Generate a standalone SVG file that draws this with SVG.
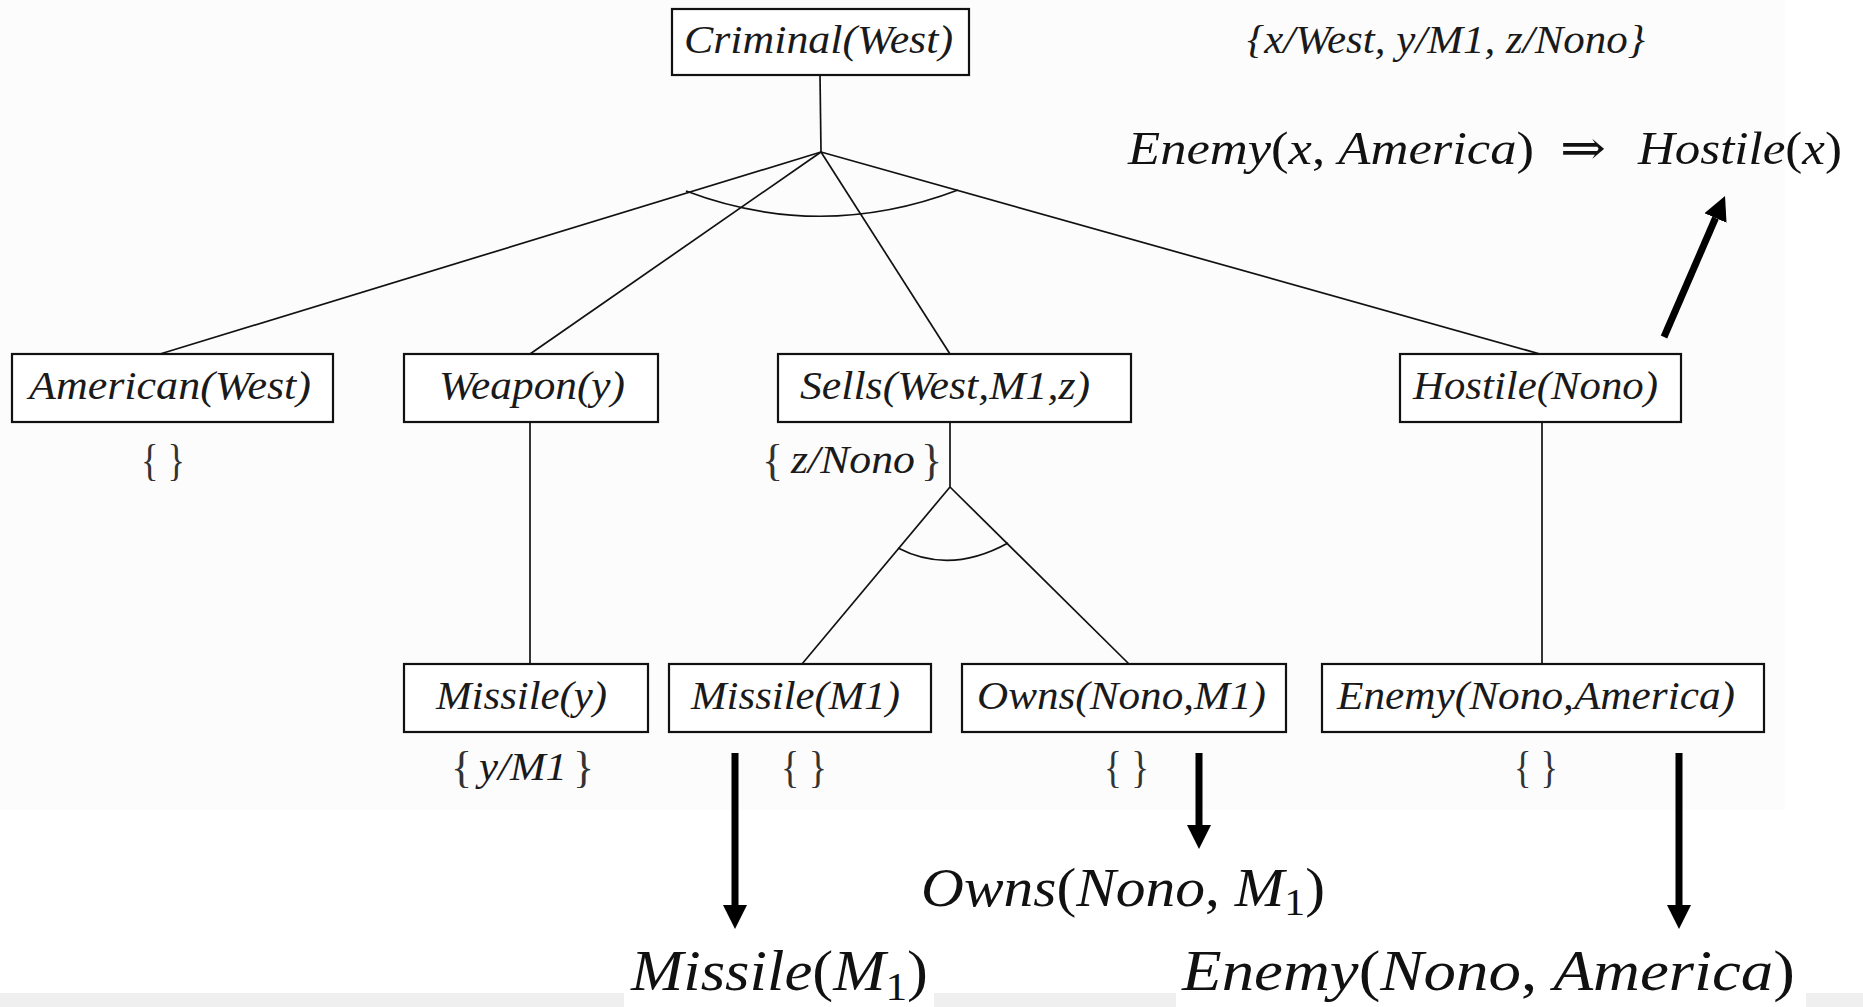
<svg xmlns="http://www.w3.org/2000/svg" width="1863" height="1007" viewBox="0 0 1863 1007">
  <style>
    .box { fill: #ffffff; stroke: #111111; stroke-width: 2.2; }
    .lbl { font-family: "Liberation Serif", "Times New Roman", serif; font-style: italic; font-size: 40px; fill: #1a1a1a; }
    .brace { font-family: "Liberation Serif", "Times New Roman", serif; font-size: 44px; fill: #333333; }
    .math { font-family: "Liberation Serif", "DejaVu Serif", serif; fill: #111111; }
    .math .it { font-style: italic; }
    .link { fill: none; stroke: #111111; stroke-width: 1.7; }
    .arrow { fill: none; stroke: #000000; stroke-width: 7; }
  </style>
  <defs>
    <marker id="head" markerUnits="userSpaceOnUse" viewBox="0 0 24 24" markerWidth="24" markerHeight="24" refX="0" refY="12" orient="auto">
      <path d="M0,0 L24,12 L0,24 z" fill="#000000"/>
    </marker>
  </defs>

  <!-- page backgrounds -->
  <rect x="0" y="0" width="1863" height="1007" fill="#ffffff"/>
  <rect x="0" y="0" width="1785" height="810" fill="#fcfcfc"/>
  <rect x="0" y="993" width="1863" height="14" fill="#efefef"/>
  <rect x="624" y="930" width="310" height="77" fill="#ffffff"/>
  <rect x="1176" y="930" width="630" height="77" fill="#ffffff"/>

  <!-- proof tree connectors -->
  <g id="connectors">
    <path class="link" d="M820,75 L821,152"/>
    <path class="link" d="M821,152 L160,354"/>
    <path class="link" d="M821,152 L530,354"/>
    <path class="link" d="M821,152 L950,354"/>
    <path class="link" d="M821,152 L1540,354"/>
    <path class="link" d="M686,191 Q821,242 958,190"/>
    <path class="link" d="M530,422 L530,664"/>
    <path class="link" d="M950,422 L950,487"/>
    <path class="link" d="M950,487 L802,664"/>
    <path class="link" d="M950,487 L1129,664"/>
    <path class="link" d="M898,548 Q950,575 1008,543"/>
    <path class="link" d="M1542,422 L1542,664"/>
  </g>

  <!-- goal nodes -->
  <g id="criminal-west">
    <rect class="box" x="672" y="9" width="297" height="66"/>
    <text class="lbl" x="684" y="53" textLength="269" lengthAdjust="spacingAndGlyphs">Criminal(West)</text>
  </g>
  <g id="american-west">
    <rect class="box" x="12" y="354" width="321" height="68"/>
    <text class="lbl" x="29" y="399" textLength="282" lengthAdjust="spacingAndGlyphs">American(West)</text>
    <text class="brace" x="141" y="475" textLength="44" lengthAdjust="spacingAndGlyphs">{ }</text>
  </g>
  <g id="weapon-y">
    <rect class="box" x="404" y="354" width="254" height="68"/>
    <text class="lbl" x="439" y="399" textLength="186" lengthAdjust="spacingAndGlyphs">Weapon(y)</text>
  </g>
  <g id="sells-west-m1-z">
    <rect class="box" x="778" y="354" width="353" height="68"/>
    <text class="lbl" x="800" y="399" textLength="290" lengthAdjust="spacingAndGlyphs">Sells(West,M1,z)</text>
    <text class="brace" x="762" y="475">{</text>
    <text class="lbl" x="791" y="473" textLength="124" lengthAdjust="spacingAndGlyphs">z/Nono</text>
    <text class="brace" x="921" y="475">}</text>
  </g>
  <g id="hostile-nono">
    <rect class="box" x="1400" y="354" width="281" height="68"/>
    <text class="lbl" x="1413" y="399" textLength="245" lengthAdjust="spacingAndGlyphs">Hostile(Nono)</text>
  </g>
  <g id="missile-y">
    <rect class="box" x="404" y="664" width="244" height="68"/>
    <text class="lbl" x="436" y="709" textLength="171" lengthAdjust="spacingAndGlyphs">Missile(y)</text>
    <text class="brace" x="451" y="782">{</text>
    <text class="lbl" x="479" y="780" textLength="88" lengthAdjust="spacingAndGlyphs">y/M1</text>
    <text class="brace" x="573" y="782">}</text>
  </g>
  <g id="missile-m1">
    <rect class="box" x="669" y="664" width="262" height="68"/>
    <text class="lbl" x="691" y="709" textLength="209" lengthAdjust="spacingAndGlyphs">Missile(M1)</text>
    <text class="brace" x="781" y="782" textLength="46" lengthAdjust="spacingAndGlyphs">{ }</text>
  </g>
  <g id="owns-nono-m1">
    <rect class="box" x="962" y="664" width="324" height="68"/>
    <text class="lbl" x="977" y="709" textLength="289" lengthAdjust="spacingAndGlyphs">Owns(Nono,M1)</text>
    <text class="brace" x="1104" y="782" textLength="45" lengthAdjust="spacingAndGlyphs">{ }</text>
  </g>
  <g id="enemy-nono-america">
    <rect class="box" x="1322" y="664" width="442" height="68"/>
    <text class="lbl" x="1337" y="709" textLength="398" lengthAdjust="spacingAndGlyphs">Enemy(Nono,America)</text>
    <text class="brace" x="1514" y="782" textLength="44" lengthAdjust="spacingAndGlyphs">{ }</text>
  </g>

  <!-- answer substitution -->
  <g id="answer">
    <text class="lbl" x="1247" y="53" font-size="38" textLength="398" lengthAdjust="spacingAndGlyphs">{x/West, y/M1, z/Nono}</text>
  </g>

  <!-- rule and facts from the knowledge base -->
  <g id="rule-hostile">
    <text class="math" x="1128" y="164" font-size="47" textLength="406" lengthAdjust="spacingAndGlyphs"><tspan class="it">Enemy</tspan>(<tspan class="it">x</tspan>, <tspan class="it">America</tspan>)</text>
    <text class="math" x="1560" y="164" font-size="47" textLength="46" lengthAdjust="spacingAndGlyphs">⇒</text>
    <text class="math" x="1638" y="164" font-size="47" textLength="204" lengthAdjust="spacingAndGlyphs"><tspan class="it">Hostile</tspan>(<tspan class="it">x</tspan>)</text>
  </g>
  <g id="fact-owns">
    <text class="math" x="921" y="906" font-size="54" textLength="404" lengthAdjust="spacingAndGlyphs"><tspan class="it">Owns</tspan>(<tspan class="it">Nono</tspan>, <tspan class="it">M</tspan><tspan font-size="38" dy="9">1</tspan><tspan dy="-9">)</tspan></text>
  </g>
  <g id="fact-missile">
    <text class="math" x="631" y="990" font-size="58" textLength="297" lengthAdjust="spacingAndGlyphs"><tspan class="it">Missile</tspan>(<tspan class="it">M</tspan><tspan font-size="40" dy="10">1</tspan><tspan dy="-10">)</tspan></text>
  </g>
  <g id="fact-enemy">
    <text class="math" x="1182" y="990" font-size="58" textLength="613" lengthAdjust="spacingAndGlyphs"><tspan class="it">Enemy</tspan>(<tspan class="it">Nono</tspan>, <tspan class="it">America</tspan>)</text>
  </g>

  <!-- matching arrows -->
  <g id="arrows">
    <line class="arrow" x1="735" y1="753" x2="735" y2="905" marker-end="url(#head)"/>
    <line class="arrow" x1="1199" y1="753" x2="1199" y2="825" marker-end="url(#head)"/>
    <line class="arrow" x1="1679" y1="753" x2="1679" y2="905" marker-end="url(#head)"/>
    <line class="arrow" x1="1664" y1="337" x2="1715.5" y2="218" marker-end="url(#head)"/>
  </g>
</svg>
